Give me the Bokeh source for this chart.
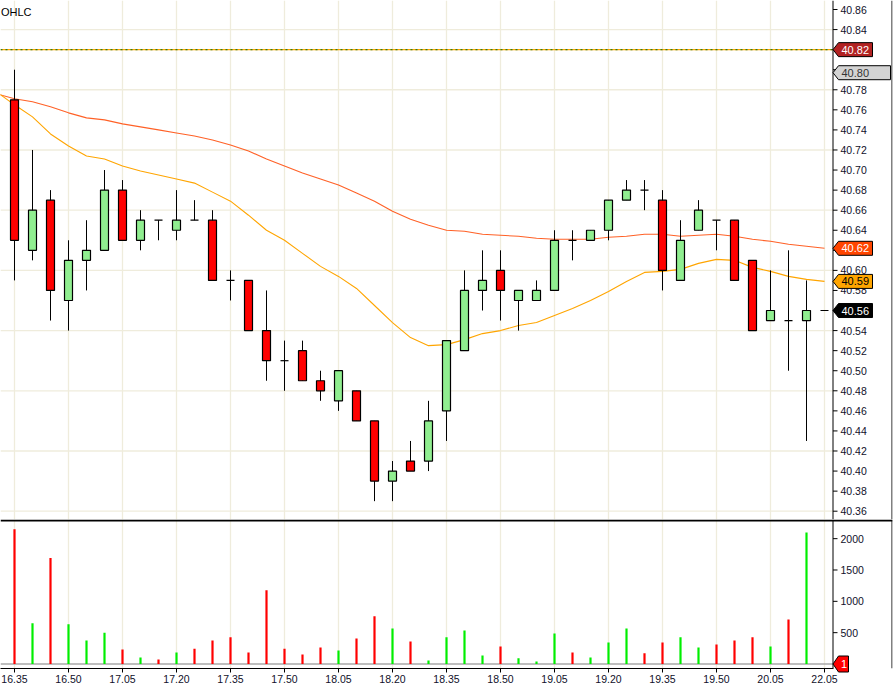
from bokeh.plotting import figure
from bokeh.layouts import column
from bokeh.models import FixedTicker, Range1d, Span, Grid, PrintfTickFormatter
from bokeh.core.properties import value
from bokeh.embed import file_html
from bokeh.resources import INLINE

# ---------------- data ----------------
times = ["16.35", "16.40", "16.45", "16.50", "16.55", "17.00", "17.05", "17.10", "17.15",
         "17.20", "17.25", "17.30", "17.35", "17.40", "17.45", "17.50", "17.55", "18.00",
         "18.05", "18.10", "18.15", "18.20", "18.25", "18.30", "18.35", "18.40", "18.45",
         "18.50", "18.55", "19.00", "19.05", "19.10", "19.15", "19.20", "19.25", "19.30",
         "19.35", "19.40", "19.45", "19.50", "19.55", "20.00", "20.05", "20.10", "20.15",
         "22.05"]

opens = [40.77, 40.62, 40.67, 40.57, 40.61, 40.62, 40.68, 40.63, 40.65, 40.64, 40.65, 40.65,
         40.59, 40.59, 40.54, 40.51, 40.52, 40.49, 40.47, 40.48, 40.45, 40.39, 40.41, 40.41,
         40.46, 40.52, 40.58, 40.60, 40.57, 40.57, 40.58, 40.63, 40.63, 40.64, 40.67, 40.68,
         40.67, 40.59, 40.64, 40.65, 40.65, 40.61, 40.55, 40.55, 40.55, 40.56]
highs = [40.80, 40.72, 40.68, 40.63, 40.65, 40.70, 40.69, 40.66, 40.65, 40.68, 40.67, 40.66,
         40.60, 40.59, 40.58, 40.53, 40.53, 40.50, 40.50, 40.48, 40.45, 40.41, 40.43, 40.47,
         40.53, 40.60, 40.62, 40.62, 40.58, 40.59, 40.64, 40.64, 40.64, 40.67, 40.69, 40.69,
         40.68, 40.65, 40.67, 40.65, 40.65, 40.61, 40.60, 40.62, 40.59, 40.56]
lows = [40.59, 40.61, 40.55, 40.54, 40.58, 40.62, 40.63, 40.62, 40.63, 40.63, 40.65, 40.59,
        40.57, 40.54, 40.49, 40.48, 40.49, 40.47, 40.46, 40.45, 40.37, 40.37, 40.40, 40.40,
        40.43, 40.52, 40.56, 40.55, 40.54, 40.57, 40.58, 40.61, 40.63, 40.63, 40.67, 40.66,
        40.58, 40.59, 40.64, 40.62, 40.59, 40.54, 40.55, 40.50, 40.43, 40.56]
closes = [40.63, 40.66, 40.58, 40.61, 40.62, 40.68, 40.63, 40.65, 40.65, 40.65, 40.65, 40.59,
          40.59, 40.54, 40.51, 40.51, 40.49, 40.48, 40.50, 40.45, 40.39, 40.40, 40.40, 40.45,
          40.53, 40.58, 40.59, 40.58, 40.58, 40.58, 40.63, 40.63, 40.64, 40.67, 40.68, 40.68,
          40.60, 40.63, 40.66, 40.65, 40.59, 40.54, 40.56, 40.55, 40.56, 40.56]
volumes = [2150, 650, 1690, 635, 375, 500, 230, 105, 70, 185, 245, 375, 425, 185, 1175, 245,
           150, 265, 215, 405, 760, 565, 360, 55, 425, 535, 135, 280, 90, 40, 485, 185, 105,
           345, 565, 170, 345, 425, 265, 310, 375, 425, 280, 710, 2100, 1]

# moving averages: first value belongs to the 16.30 bar (just left of the view)
ma_times = ["16.30"] + times
ma_fast = [40.778, 40.765, 40.753, 40.736, 40.724, 40.714, 40.711, 40.704, 40.699, 40.695,
           40.691, 40.687, 40.678, 40.669, 40.655, 40.640, 40.630, 40.617, 40.604, 40.594,
           40.582, 40.565, 40.548, 40.533, 40.525, 40.526, 40.531, 40.537, 40.540, 40.545,
           40.548, 40.555, 40.562, 40.570, 40.579, 40.589, 40.598, 40.599, 40.601, 40.607,
           40.611, 40.610, 40.603, 40.599, 40.594, 40.591, 40.589]
ma_slow = [40.776, 40.771, 40.768, 40.763, 40.757, 40.752, 40.750, 40.746, 40.743, 40.740,
           40.737, 40.734, 40.730, 40.725, 40.719, 40.711, 40.704, 40.697, 40.691, 40.685,
           40.677, 40.669, 40.659, 40.651, 40.645, 40.640, 40.639, 40.636, 40.635, 40.634,
           40.632, 40.631, 40.631, 40.631, 40.633, 40.634, 40.636, 40.636, 40.634, 40.635,
           40.636, 40.634, 40.631, 40.629, 40.626, 40.624, 40.622]

price_ticks = [40.36, 40.38, 40.40, 40.42, 40.44, 40.46, 40.48, 40.50, 40.52, 40.54, 40.56,
               40.58, 40.60, 40.62, 40.64, 40.66, 40.68, 40.70, 40.72, 40.74, 40.76, 40.78,
               40.80, 40.82, 40.84, 40.86]
price_grid = [40.36, 40.42, 40.48, 40.54, 40.60, 40.66, 40.72, 40.78, 40.84]
vol_ticks = [500, 1000, 1500, 2000]
alert_level = 40.82
alert_text = "40.82"
cursor_price = 40.797
cursor_text = "40.80"
fast_tag = "40.59"
slow_tag = "40.62"
last_tag = "40.56"
vol_tag = "1"
title_text = "OHLC"

# ---------------- geometry ----------------
BAR_PX = 18.0
FRAME_W = 892
X0 = -14.0 / BAR_PX
X1 = X0 + FRAME_W / BAR_PX
PPX = 1003.4                 # px per price unit
P_H = 519
P_TOP = 40.86 + 9 / PPX
P_BOT = P_TOP - P_H / PPX
VPX = 0.06267                # px per volume unit
V_H = 149
V_TOP = 144.5 / VPX
V_BOT = -(V_H - 144.5) / VPX

FONT = "Liberation Sans"
FS = "10.5px"
TXT = "#10102a"
GRID = "#efecdc"


def X(px):
    return X0 + px / BAR_PX


AX = X(832.5)
idx = list(range(len(times)))
ma_idx = list(range(-1, len(times)))
x_ticks = list(range(0, len(times), 3))


def style_value_axis(ax, ticks, label_w_standoff):
    ax.ticker = FixedTicker(ticks=ticks)
    ax.axis_line_color = None
    ax.major_tick_line_color = None
    ax.minor_tick_line_color = None
    ax.major_tick_out = 0
    ax.major_tick_in = 0
    ax.minor_tick_out = 0
    ax.minor_tick_in = 0
    ax.major_label_standoff = -52
    ax.major_label_text_font = FONT
    ax.major_label_text_font_size = FS
    ax.major_label_text_color = TXT
    ax.axis_label = " "
    ax.axis_label_text_font_size = "1px"
    ax.axis_label_standoff = label_w_standoff


def tag_shape(yv, half_h, right_px):
    tip, base, right = AX, X(838), X(right_px)
    return ([tip, base, right, right, base],
            [yv, yv + half_h, yv + half_h, yv - half_h, yv - half_h])


# ---------------- price panel ----------------
pp = figure(frame_width=FRAME_W, frame_height=P_H, x_range=Range1d(X0, X1),
            y_range=Range1d(P_BOT, P_TOP), output_backend="svg", toolbar_location=None,
            x_axis_location=None, y_axis_location="right",
            min_border_left=0, min_border_top=0, min_border_bottom=0, min_border_right=0)
pp.outline_line_color = None
pp.background_fill_color = "white"
pp.border_fill_color = "white"
for g in pp.grid:
    g.grid_line_color = None
pp.add_layout(Grid(dimension=0, ticker=FixedTicker(ticks=x_ticks), grid_line_color=GRID,
                   grid_line_width=1.3))
pp.segment(x0=[X0] * len(price_grid), y0=price_grid, x1=[AX] * len(price_grid),
           y1=price_grid, line_color=GRID, line_width=1.3)

ya = pp.yaxis[0]
style_value_axis(ya, price_ticks, 27)
ya.formatter = PrintfTickFormatter(format="%.2f")

# axis line and tick marks at the price scale edge
pp.add_layout(Span(location=AX, dimension="height", line_color="black", line_width=1))
pp.segment(x0=[AX] * len(price_ticks), y0=price_ticks, x1=[X(837)] * len(price_ticks),
           y1=price_ticks, line_color="black", line_width=1)

# alert line (orange with green dots)
pp.segment(x0=[X0], y0=[alert_level], x1=[AX], y1=[alert_level], line_color="#ffa500",
           line_width=1.2)
pp.segment(x0=[X0], y0=[alert_level], x1=[AX], y1=[alert_level], line_color="#2e7d1a",
           line_width=1.2, line_dash="2 3")

# moving averages
pp.line(ma_idx, ma_slow, line_color="#ff4500", line_width=1.1, line_alpha=0.85)
pp.line(ma_idx, ma_fast, line_color="#ffa500", line_width=1.1)

# candles
pp.segment(x0=idx, y0=highs, x1=idx, y1=lows, line_color="black", line_width=1)
body_x = [i for i in idx if opens[i] != closes[i]]
body_top = [max(opens[i], closes[i]) for i in body_x]
body_bot = [min(opens[i], closes[i]) for i in body_x]
body_col = ["#90ee90" if closes[i] > opens[i] else "#ff0000" for i in body_x]
pp.vbar(x=body_x, width=8 / BAR_PX, top=body_top, bottom=body_bot, fill_color=body_col,
        line_color="black", line_width=1.2)
doji_x = [i for i in idx if opens[i] == closes[i]]
pp.segment(x0=[i - 4 / BAR_PX for i in doji_x], y0=[opens[i] for i in doji_x],
           x1=[i + 4 / BAR_PX for i in doji_x], y1=[opens[i] for i in doji_x],
           line_color="black", line_width=1.2)

# price tags on the scale
tag_vals = [alert_level, cursor_price, ma_slow[-1], ma_fast[-1], closes[-1]]
tag_texts = [alert_text, cursor_text, slow_tag, fast_tag, last_tag]
tag_fill = ["#b22222", "#d3d3d3", "#ff4500", "#ffa500", "#000000"]
tag_fg = ["white", "#333333", "white", "black", "white"]
tag_right = [872, 890, 872, 872, 872]
shapes = [tag_shape(v, 7 / PPX, r) for v, r in zip(tag_vals, tag_right)]
pp.patches(xs=[s[0] for s in shapes], ys=[s[1] for s in shapes], fill_color=tag_fill,
           line_color="black", line_width=1, level="overlay")
pp.text(x=[X(841)] * len(tag_vals), y=tag_vals, text=tag_texts, text_color=tag_fg,
        text_font=value(FONT), text_font_size="11px", text_baseline="middle",
        text_align="left", level="overlay")

pp.text(x=[X(0.5)], y=[P_TOP - 11 / PPX], text=[title_text], text_color="black",
        text_font=value(FONT), text_font_size="11px", text_baseline="middle",
        text_align="left", level="overlay")

pp.add_layout(Span(location=X(891.5), dimension="height", line_color="black", line_width=1))

# ---------------- volume panel ----------------
pv = figure(frame_width=FRAME_W, frame_height=V_H, x_range=pp.x_range,
            y_range=Range1d(V_BOT, V_TOP), output_backend="svg", toolbar_location=None,
            x_axis_location="below", y_axis_location="right",
            min_border_left=0, min_border_top=0, min_border_bottom=0, min_border_right=0)
pv.outline_line_color = None
pv.background_fill_color = "white"
pv.border_fill_color = "white"
for g in pv.grid:
    g.grid_line_color = None
pv.add_layout(Grid(dimension=0, ticker=FixedTicker(ticks=x_ticks), grid_line_color=GRID,
                   grid_line_width=1.3))

pv.segment(x0=[X0], y0=[0], x1=[AX], y1=[0], line_color="#a8a8a8", line_width=1.5)
vol_col = ["#00ee00" if closes[i] > opens[i] else "#ff0000" for i in idx]
pv.vbar(x=idx, width=2.2 / BAR_PX, top=volumes, bottom=0, fill_color=vol_col,
        line_color=None)

va = pv.yaxis[0]
style_value_axis(va, vol_ticks, 30)
pv.add_layout(Span(location=AX, dimension="height", line_color="black", line_width=1))
pv.segment(x0=[AX] * len(vol_ticks), y0=vol_ticks, x1=[X(837)] * len(vol_ticks),
           y1=vol_ticks, line_color="black", line_width=1)

xa = pv.xaxis[0]
xa.ticker = FixedTicker(ticks=x_ticks)
xa.major_label_overrides = {i: times[i] for i in x_ticks}
xa.bounds = (X0, AX)
xa.axis_line_color = "black"
xa.major_tick_line_color = "black"
xa.major_tick_out = 4
xa.major_tick_in = 0
xa.minor_tick_line_color = None
xa.major_label_standoff = 2
xa.major_label_text_font = FONT
xa.major_label_text_font_size = FS
xa.major_label_text_color = TXT

vs = tag_shape(0, 8 / VPX, 848)
pv.patches(xs=[vs[0]], ys=[vs[1]], fill_color="#ff0000", line_color="black", line_width=1,
           level="overlay")
pv.text(x=[X(840.5)], y=[0], text=[vol_tag], text_color="white", text_font=value(FONT),
        text_font_size="11px", text_baseline="middle", text_align="left", level="overlay")

# panel separator (2px, inside the volume frame) and right border
pv.segment(x0=[X0], y0=[V_TOP - 1.0 / VPX], x1=[X1], y1=[V_TOP - 1.0 / VPX],
           line_color="black", line_width=2)
pv.add_layout(Span(location=X(891.5), dimension="height", line_color="black", line_width=1))

layout = column(pp, pv, spacing=0)
open("out.html", "w").write(file_html(layout, INLINE))
